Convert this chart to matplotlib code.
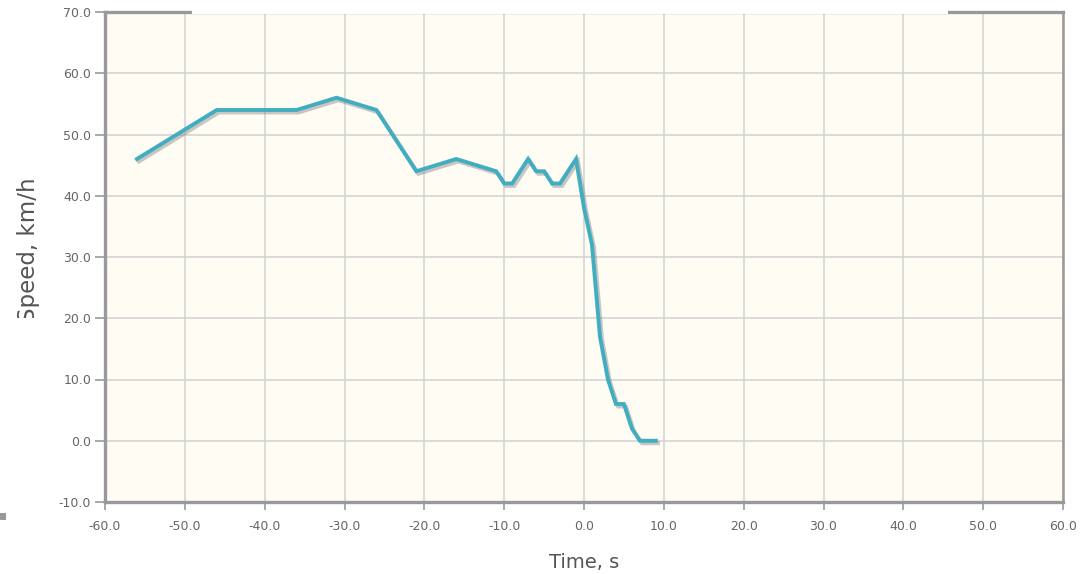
import matplotlib
matplotlib.use("Agg")
import matplotlib.pyplot as plt
import matplotlib.patheffects as pe
from matplotlib.ticker import FuncFormatter, MultipleLocator
from matplotlib.patches import Rectangle

time_s = [-56, -46, -36, -31, -26, -21, -16, -11, -10, -9, -7, -6, -5, -4, -3, -1, 0, 1, 2, 3, 4, 5, 6, 7, 8, 9]
speed_kmh = [46, 54, 54, 56, 54, 44, 46, 44, 42, 42, 46, 44, 44, 42, 42, 46, 38, 32, 17, 10, 6, 6, 2, 0, 0, 0]

fig = plt.figure(figsize=(10.84, 5.74), dpi=100)
W, H = 1084, 574
left, right, top, bottom = 105, 1063, 12, 502
ax = fig.add_axes([left / W, 1 - bottom / H, (right - left) / W, (bottom - top) / H])
ax.set_facecolor("#fffcf4")

ax.plot(time_s, speed_kmh, color="#40adc0", lw=2.8, solid_joinstyle="miter",
        path_effects=[pe.SimpleLineShadow(offset=(1.5, -1.8), shadow_color="#777777", alpha=0.4),
                      pe.Normal()], zorder=3)

ax.set_xlim(-60, 60)
ax.set_ylim(-10, 70)
ax.xaxis.set_major_locator(MultipleLocator(10))
ax.yaxis.set_major_locator(MultipleLocator(10))
fmt = FuncFormatter(lambda v, p: f"{v:.1f}")
ax.xaxis.set_major_formatter(fmt)
ax.yaxis.set_major_formatter(fmt)
ax.grid(True, color="#d2d2d2", lw=1.1, zorder=0)
ax.set_axisbelow(True)

for s in ["left", "bottom", "top"]:
    ax.spines[s].set_color("#999999")
    ax.spines[s].set_linewidth(2.4)
ax.spines["right"].set_color("#999999")
ax.spines["right"].set_linewidth(1.8)

ax.tick_params(axis="both", colors="#999999", labelcolor="#666666", labelsize=9,
               width=1.2, direction="out")
ax.tick_params(axis="x", length=6, pad=7)
ax.tick_params(axis="y", length=7, pad=3)

fig.text(584 / W, 1 - 563 / H, "Time, s", ha="center", va="center", fontsize=14, color="#555555")
fig.text(29 / W, 1 - 177 / H, "Speed, km/h", ha="center", va="top", fontsize=16.5,
         color="#555555", rotation=90)

# white title box covering top edge
fig.patches.append(Rectangle((192 / W, 1 - 14 / H), (948 - 192) / W, 14 / H,
                             transform=fig.transFigure, facecolor="white", edgecolor="none", zorder=10))
# white area clipping the start of the y label
fig.patches.append(Rectangle((0, 1 - 380 / H), 52 / W, 62 / H, transform=fig.transFigure,
                             facecolor="white", edgecolor="none", zorder=10))
fig.patches.append(Rectangle((0, 1 - 520 / H), 6 / W, 7 / H, transform=fig.transFigure,
                             facecolor="#999999", edgecolor="none", zorder=11))

fig.savefig("out.png", dpi=100, facecolor="white")
